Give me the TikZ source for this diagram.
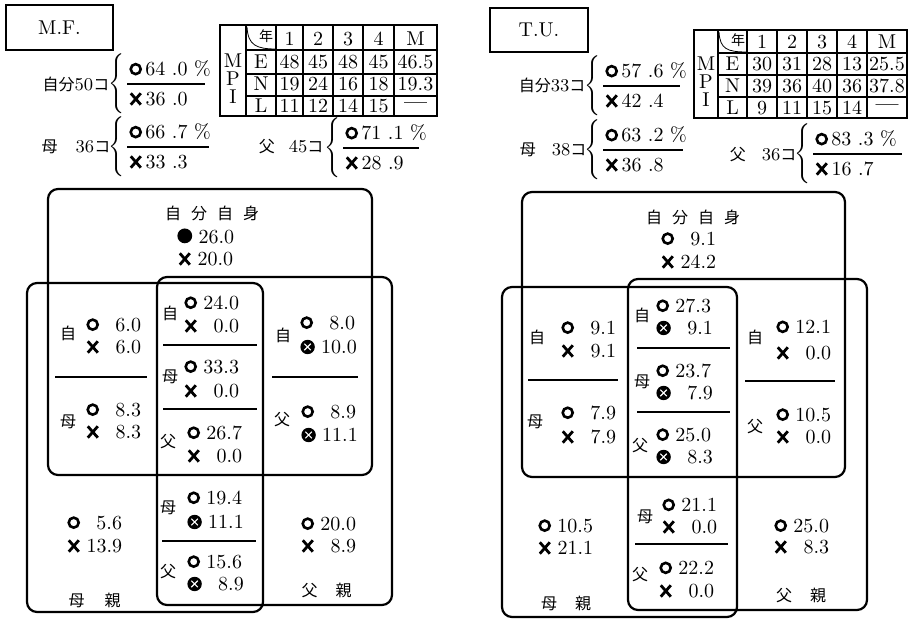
\documentclass[tikz,border=0pt]{standalone}
\usepackage{fontspec}
\usepackage{tikz}
\usetikzlibrary{positioning}
\newfontfamily\jp{Noto Sans CJK JP}
\newcommand{\jpf}{\jp\fontsize{8pt}{10pt}\selectfont}
% answer marks
\newcommand{\mk}{\tikz[baseline=0pt]\draw[line width=1.3pt] (0.32em,0.34em) circle (0.25em);}
\newcommand{\bt}{\tikz[baseline=0pt]\draw[line width=1.4pt] (0.05em,0.05em) -- (0.55em,0.62em) (0.05em,0.62em) -- (0.55em,0.05em);}
\newcommand{\kuro}{\tikz[baseline=0pt]\fill (0.37em,0.36em) circle (0.37em);}
\newcommand{\kake}{\tikz[baseline=0pt]{\fill (0.34em,0.34em) circle (0.36em);
  \draw[white,line width=0.6pt] (0.18em,0.18em) -- (0.5em,0.5em) (0.18em,0.5em) -- (0.5em,0.18em);}}
\newcommand{\val}[2]{#1\hspace{2.5pt}\makebox[1.85em][r]{#2}}
\tikzset{
  venn/.style={line width=1.1pt, rounded corners=5pt},
  divider/.style={line width=1.2pt},
  tabline/.style={line width=1pt},
  namebox/.style={draw, line width=1.1pt, inner sep=0pt},
  lbl/.style={font=\jpf, inner sep=0pt},
  val/.style={anchor=west, inner sep=0pt},
  brc/.style={anchor=east, inner sep=0pt},
  hdr/.style={inner sep=0pt, font=\small},
  cell/.style={inner sep=0pt, align=center}
}

\begin{document}
\begin{tikzpicture}[x=0.5pt, y=-0.5pt]
  \useasboundingbox (0,0) rectangle (909,619);
  % Names
  \node[namebox, minimum width=53.5pt, minimum height=22.5pt] (mf) at (59.5,27.5) {M.F.};
  \node[namebox, minimum width=49pt, minimum height=22pt] (tu) at (539,30) {T.U.};
  % Counts and ratios
  \node[hdr] (fsL-l) at (76,84) {{\jpf 自分}50{\jpf コ}};
  \node[hdr] (mmL-l) at (76,147) {{\jpf 母}\hspace{9pt}36{\jpf コ}};
  \node[hdr] (ffL-l) at (291,147) {{\jpf 父}\hspace{7pt}45{\jpf コ}};
  \node[hdr] (fsR-l) at (552,85) {{\jpf 自分}33{\jpf コ}};
  \node[hdr] (mmR-l) at (553,150) {{\jpf 母}\hspace{8pt}38{\jpf コ}};
  \node[hdr] (ffR-l) at (763,155) {{\jpf 父}\hspace{8pt}36{\jpf コ}};
  \foreach \n/\x/\y/\w/\tp/\lo in {
      fsL/127/84/78/{\mk\,64\ .0\ \%}/{\bt\,36\ .0},
      mmL/127/147/82/{\mk\,66\ .7\ \%}/{\bt\,33\ .3},
      ffL/343/148/76/{\mk\,71\ .1\ \%}/{\bt\,28\ .9},
      fsR/603/86/77/{\mk\,57\ .6\ \%}/{\bt\,42\ .4},
      mmR/603/150/80/{\mk\,63\ .2\ \%}/{\bt\,36\ .8},
      ffR/813/154/89/{\mk\,83\ .3\ \%}/{\bt\,16\ .7}} {
    \node[brc] (\n-br) at (\x,\y) {$\left\{\rule[-11pt]{0pt}{22pt}\right.$};
    \node[val] (\n-t) at (\x+2,\y-15) {\tp};
    \node[val] (\n-u) at (\x+2,\y+15) {\lo};
    \draw[divider] (\n-br.east) -- ++(\w,0);
  }
  % MPI table, M.F.
  \draw[tabline] (220,25) rectangle (437,116);
  \foreach \x in {246,276,303,333,363,394} \draw[tabline] (\x,25) -- (\x,116);
  \foreach \y in {50,74,96} \draw[tabline] (246,\y) -- (437,\y);
  \draw[thin] (247,27) .. controls (248,45) and (256,49) .. (276,49);
  \node[cell] (mpiL) at (233,79) {M\\[-3pt]P\\[-3pt]I};
  \node[cell, font=\jp\fontsize{7pt}{8pt}\selectfont] (tL-0-0) at (266,36) {年};
  \foreach \r/\y/\t in {1/62/E, 2/84/N, 3/106/L}
    \node[cell] (tL-\r-0) at (261,\y) {\t};
  \foreach \r/\y/\row in {0/39/{1,2,3,4,M}, 1/62/{48,45,48,45,46.5},
      2/84/{19,24,16,18,19.3}, 3/106/{11,12,14,15,\textbf{---}}}
    \foreach \v [count=\c] in \row {
      \pgfmathsetmacro\cx{{289.5,318,348,378.5,415.5}[\c-1]}
      \node[cell] (tL-\r-\c) at (\cx,\y) {\v};
    }
  % MPI table, T.U.
  \draw[tabline] (694,30) rectangle (907,118);
  \foreach \x in {718,747,777,807,837,867} \draw[tabline] (\x,30) -- (\x,118);
  \foreach \y in {53,75,97} \draw[tabline] (718,\y) -- (907,\y);
  \draw[thin] (719,32) .. controls (720,49) and (727,52) .. (747,52);
  \node[cell] (mpiR) at (706,82) {M\\[-3pt]P\\[-3pt]I};
  \node[cell, font=\jp\fontsize{7pt}{8pt}\selectfont] (tR-0-0) at (738,40) {年};
  \foreach \r/\y/\t in {1/64/E, 2/86/N, 3/108/L}
    \node[cell] (tR-\r-0) at (732.5,\y) {\t};
  \foreach \r/\y/\row in {0/42/{1,2,3,4,M}, 1/64/{30,31,28,13,25.5},
      2/86/{39,36,40,36,37.8}, 3/108/{9,11,15,14,\textbf{---}}}
    \foreach \v [count=\c] in \row {
      \pgfmathsetmacro\cx{{762,792,822,852,887}[\c-1]}
      \node[cell] (tR-\r-\c) at (\cx,\y) {\v};
    }
  % Self, mother and father boxes
  \foreach \a/\b/\c/\d in {48/189/372/475, 27/283/263/612, 157/277/392/605,
      522/192/845/477, 502/287/737/617, 628/279/867/610}
    \draw[venn] (\a,\b) rectangle (\c,\d);
  \foreach \a/\b/\y in {55/147/377, 272/358/377, 163/257/345, 163/257/409, 162/256/541,
      528/618/380, 745/835/381, 637/730/348, 637/730/412, 635/728/544}
    \draw[divider] (\a,\y) -- (\b,\y);
  % Labels
  \foreach \n/\x/\y/\t in {
      aT/212/213/{自\hspace{5pt}分\hspace{5pt}自\hspace{5pt}身},
      aLa/68/333/自, aLb/68/422/母, aCa/170/313/自, aCb/170/377/母,
      aCc/168/442/父, aCd/168/508/母, aCe/168/572/父, aRa/283/335/自,
      aRb/282/420/父, aM/94.5/600/{母\hspace{10pt}親}, aF/326.5/590/{父\hspace{9pt}親},
      bT/693/217/{自\hspace{5pt}分\hspace{5pt}自\hspace{5pt}身},
      bLa/537/337/自, bLb/535/422/母, bCa/642/315/自, bCb/642/382/母,
      bCc/640/446/父, bCd/645/517/母, bCe/640/575/父, bRa/755/337/自,
      bRb/755/427/父, bM/566/603/{母\hspace{9pt}親}, bF/801/595/{父\hspace{9pt}親}}
    \node[lbl] (\n) at (\x,\y) {\t};
  % Percentages
  \foreach \n/\x/\y/\s/\v in {
      aS1/177/236/\kuro/26.0, aS2/178/259/\bt/20.0,
      aC1/184/303/\mk/24.0, aC2/184/326/\bt/0.0,
      aC3/184/367/\mk/33.3, aC4/184/391/\bt/0.0,
      aC5/187/433/\mk/26.7, aC6/187/456/\bt/0.0,
      aC7/187/498/\mk/19.4, aC8/187/522/\kake/11.1,
      aC9/187/562/\mk/15.6, aC10/187/584/\kake/8.9,
      aL1/86/325/\mk/6.0, aL2/86/347/\bt/6.0,
      aL3/86/410/\mk/8.3, aL4/86/432/\bt/8.3,
      aR1/300/323/\mk/8.0, aR2/300/347/\kake/10.0,
      aR3/301/412/\mk/8.9, aR4/301/435/\kake/11.1,
      aM1/67/523/\mk/5.6, aM2/67/546/\bt/13.9,
      aF1/301/524/\mk/20.0, aF2/301/546/\bt/8.9,
      bS1/661/239/\mk/9.1, bS2/661/262/\bt/24.2,
      bC1/656/306/\mk/27.3, bC2/656/328/\kake/9.1,
      bC3/656/371/\mk/23.7, bC4/656/393/\kake/7.9,
      bC5/656/435/\mk/25.0, bC6/656/457/\kake/8.3,
      bC7/662/505/\mk/21.1, bC8/662/527/\bt/0.0,
      bC9/659/568/\mk/22.2, bC10/659/591/\bt/0.0,
      bL1/561/328/\mk/9.1, bL2/561/351/\bt/9.1,
      bL3/561/413/\mk/7.9, bL4/561/437/\bt/7.9,
      bR1/776/327/\mk/12.1, bR2/776/353/\bt/0.0,
      bR3/776/415/\mk/10.5, bR4/776/437/\bt/0.0,
      bM1/538/526/\mk/10.5, bM2/538/548/\bt/21.1,
      bF1/774/526/\mk/25.0, bF2/774/547/\bt/8.3}
    \node[val] (\n) at (\x,\y) {\val{\s}{\v}};
\end{tikzpicture}
\end{document}
